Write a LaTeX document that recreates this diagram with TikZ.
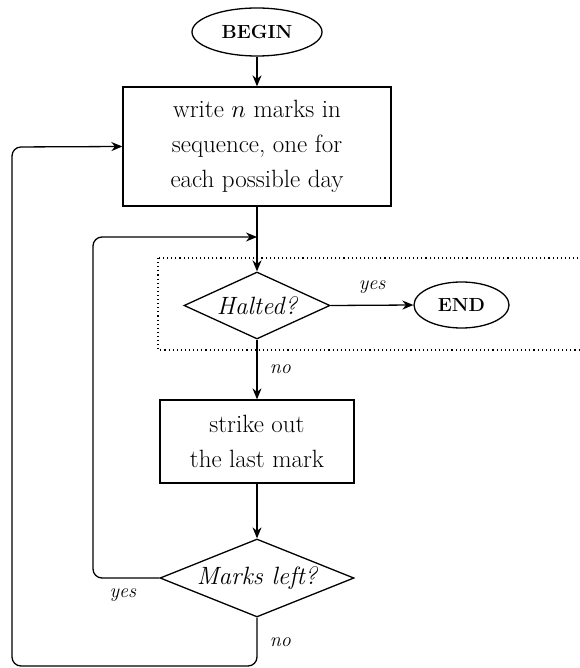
\documentclass[tikz,border=0pt]{standalone}
\usepackage{fontspec}
\usetikzlibrary{shapes.geometric,arrows.meta}
\begin{document}
\begin{tikzpicture}[x=1pt,y=-1pt,
  every node/.style={font=\fontsize{25}{35}\selectfont},
  proc/.style={draw, line width=1.3pt, rectangle, align=center, inner sep=0pt},
  term/.style={draw, ellipse, line width=1.3pt, inner sep=0pt},
  dec/.style={draw, diamond, line width=1.3pt, inner sep=0pt, aspect=2.3, font=\fontsize{25}{30}\selectfont\itshape},
  lab/.style={font=\fontsize{20}{22}\selectfont\itshape},
  flow/.style={line width=1.3pt, -{Stealth[length=11pt,width=9pt]}},
  loopline/.style={flow, rounded corners=9pt},
  zone/.style={line width=1.1pt, dash pattern=on 1.1pt off 3pt}]
\useasboundingbox (0,0) rectangle (579,668);
\node[term, minimum width=130pt, minimum height=48pt] (begin) at (257,32) {\fontsize{19}{20}\selectfont\bfseries\addfontfeature{LetterSpace=8}BEGIN};
\node[proc, minimum width=268pt, minimum height=119pt] (write) at (257,146.5) {write $n$ marks in\\sequence, one for\\each possible day};
\node[dec, minimum width=146pt, minimum height=67pt] (halt) at (257,305.5) {Halted?};
\node[term, minimum width=95pt, minimum height=46pt] (end) at (461.5,305) {\fontsize{19}{20}\selectfont\bfseries\addfontfeature{LetterSpace=8}END};
\node[proc, minimum width=194pt, minimum height=83pt] (strike) at (257,441.5) {strike out\\the last mark};
\node[dec, minimum width=194pt, minimum height=78pt] (left) at (257,578) {Marks left?};
\coordinate (join) at (257,237);
\coordinate (bot) at (257,666);
\draw[zone] (158,258) rectangle (600,350);
\draw[flow] (begin) -- (write);
\draw[line width=1.3pt] (write.south) -- (join);
\draw[flow] (join) -- (halt.north);
\draw[flow] (halt.east) -- node[lab, above=8pt] {yes} (end.west);
\draw[flow] (halt.south) -- node[lab, right=9pt] {no} (strike.north);
\draw[flow] (strike) -- (left);
\draw[loopline] (left.west) -- node[lab, pos=0.55, below=7pt] {yes} (93,578) -- (93,237) -- (join);
\draw[loopline] (left.south) -- node[lab, right=9pt] {no} (bot) -- (12,666) -- (12,147) -- (write.west);
\end{tikzpicture}
\end{document}
